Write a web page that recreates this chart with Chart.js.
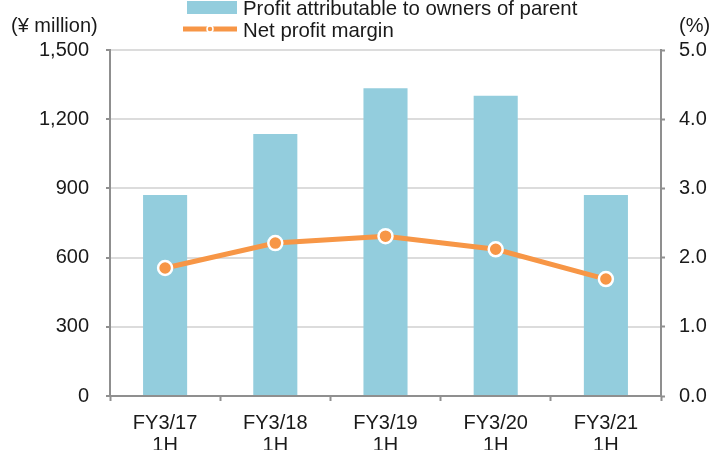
<!DOCTYPE html>
<html>
<head>
<meta charset="utf-8">
<script src="https://cdn.jsdelivr.net/npm/chart.js@4"></script>
<style>
html,body{margin:0;padding:0;background:#fff;}
#wrap{width:710px;height:450px;position:relative;}
</style>
</head>
<body>
<div id="wrap"><canvas id="c" width="710" height="450"></canvas></div>
<script>
const categories = [["FY3/17","1H"],["FY3/18","1H"],["FY3/19","1H"],["FY3/20","1H"],["FY3/21","1H"]];
const profitValues = [871, 1136, 1334, 1302, 871];
const marginValues = [1.85, 2.21, 2.31, 2.12, 1.69];
const leftTicks = [0, 300, 600, 900, 1200, 1500];
const rightTicks = [0, 1, 2, 3, 4, 5];
const seriesLabels = ["Profit attributable to owners of parent", "Net profit margin"];
const axisTitles = ["(\u00a5 million)", "(%)"];

const BAR = "#93CDDD";
const ORANGE = "#F79646";
const AXIS = "#8f8f8f";
const GRID = "#dcdcdc";
const TXT = "#1a1a1a";
const FONT = "Liberation Sans, Arial, sans-serif";

const overlay = {
  id: "overlay",
  afterDraw(chart) {
    const ctx = chart.ctx;
    const barDs = chart.data.datasets.find(d => d.type === "bar");
    const lineDs = chart.data.datasets.find(d => d.type === "line");
    ctx.save();
    ctx.font = "20px " + FONT;
    ctx.fillStyle = TXT;
    ctx.textBaseline = "middle";
    ctx.textAlign = "left";
    ctx.fillText(axisTitles[0], 11, 26);
    ctx.fillText(axisTitles[1], 679, 26);
    // legend row 1
    ctx.fillStyle = BAR;
    ctx.fillRect(187, 1, 50, 13);
    ctx.fillStyle = TXT;
    ctx.textBaseline = "alphabetic";
    ctx.font = "20.4px " + FONT;
    ctx.fillText(barDs.label, 243, 15);
    // legend row 2
    ctx.strokeStyle = ORANGE;
    ctx.lineWidth = 5;
    ctx.beginPath();
    ctx.moveTo(183, 29);
    ctx.lineTo(237, 29);
    ctx.stroke();
    ctx.beginPath();
    ctx.arc(210, 29, 3, 0, Math.PI * 2);
    ctx.fillStyle = ORANGE;
    ctx.fill();
    ctx.lineWidth = 1.5;
    ctx.strokeStyle = "#fff";
    ctx.stroke();
    ctx.fillStyle = TXT;
    ctx.fillText(lineDs.label, 243, 37);
    ctx.restore();
  }
};

new Chart(document.getElementById("c"), {
  type: "bar",
  data: {
    labels: categories,
    datasets: [
      {
        type: "line",
        label: seriesLabels[1],
        data: marginValues,
        yAxisID: "y1",
        borderColor: ORANGE,
        borderWidth: 5,
        backgroundColor: ORANGE,
        pointBackgroundColor: ORANGE,
        pointBorderColor: "#ffffff",
        pointBorderWidth: 2.5,
        pointRadius: 7,
        tension: 0,
        order: 0
      },
      {
        type: "bar",
        label: seriesLabels[0],
        data: profitValues,
        yAxisID: "y",
        backgroundColor: BAR,
        categoryPercentage: 1,
        barPercentage: 0.4,
        order: 1
      }
    ]
  },
  options: {
    responsive: false,
    animation: false,
    devicePixelRatio: 1,
    layout: { padding: { top: 50, left: 0, right: 0, bottom: 0 } },
    plugins: { legend: { display: false }, tooltip: { enabled: false } },
    scales: {
      x: {
        afterFit(s) { s.height = 54; },
        grid: { drawOnChartArea: false, drawTicks: true, tickLength: 5, tickColor: AXIS, tickWidth: 2 },
        border: { color: AXIS, width: 2 },
        ticks: { color: TXT, font: { family: FONT, size: 20, lineHeight: 1.1 }, padding: 11, maxRotation: 0 }
      },
      y: {
        position: "left",
        min: 0, max: 1500,
        afterFit(s) { s.width = 110; },
        afterBuildTicks(s) { s.ticks = leftTicks.map(v => ({ value: v })); },
        grid: { color: GRID, lineWidth: 2, tickLength: 4, tickColor: AXIS, tickWidth: 2 },
        border: { color: AXIS, width: 2 },
        ticks: { color: TXT, font: { family: FONT, size: 20 }, padding: 17,
          callback: v => v.toLocaleString("en-US") }
      },
      y1: {
        position: "right",
        min: 0, max: 5,
        afterFit(s) { s.width = 49; },
        afterBuildTicks(s) { s.ticks = rightTicks.map(v => ({ value: v })); },
        grid: { drawOnChartArea: false, tickLength: 4, tickColor: AXIS, tickWidth: 2 },
        border: { color: AXIS, width: 2 },
        ticks: { color: TXT, font: { family: FONT, size: 20 }, padding: 14,
          callback: v => Number(v).toFixed(1) }
      }
    }
  },
  plugins: [overlay]
});
</script>
</body>
</html>
